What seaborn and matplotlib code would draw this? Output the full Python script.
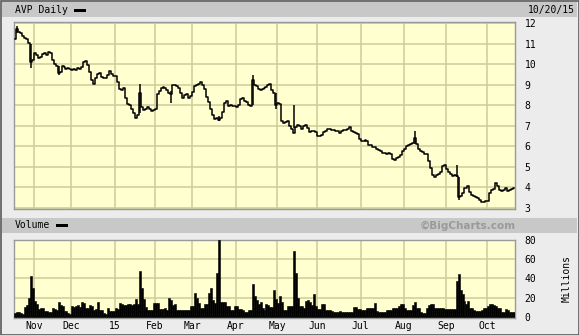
import numpy as np
import pandas as pd
import matplotlib
matplotlib.use("Agg")
import matplotlib.pyplot as plt
from matplotlib.patches import Rectangle
import seaborn as sns

# ---------------- data ----------------
close = [
    11.2, 11.7, 11.55, 11.5, 11.35, 11.25, 11.2, 11.05, 10.1, 10.2,
    10.55, 10.45, 10.3, 10.35, 10.5, 10.55, 10.45, 10.6, 10.55, 10.2,
    10.0, 9.9, 9.55, 9.6, 9.9, 9.85, 9.75, 9.8, 9.75, 9.7,
    9.75, 9.7, 9.8, 9.75, 9.85, 10.1, 10.15, 9.95, 9.6, 9.2,
    9.05, 9.3, 9.5, 9.55, 9.35, 9.3, 9.3, 9.45, 9.65, 9.5,
    9.4, 9.4, 9.1, 8.8, 8.75, 8.85, 8.35, 8.05, 8.0, 7.8,
    7.6, 7.35, 7.5, 8.6, 7.9, 7.75, 7.8, 7.9, 7.8, 7.7,
    7.75, 7.8, 8.55, 8.7, 8.85, 8.9, 8.85, 8.75, 8.6, 8.55,
    9.0, 9.0, 8.95, 8.85, 8.6, 8.35, 8.5, 8.55, 8.35, 8.45,
    8.65, 8.95, 9.0, 9.05, 9.1, 9.0, 8.8, 8.4, 8.15, 7.8,
    7.5, 7.3, 7.35, 7.25, 7.35, 7.65, 8.1, 8.2, 7.95, 8.0,
    7.95, 7.95, 7.9, 8.0, 8.3, 8.35, 8.2, 8.15, 8.0, 7.95,
    9.2, 9.0, 8.95, 8.8, 8.75, 8.8, 8.85, 8.9, 9.0, 9.05,
    8.75, 8.6, 8.0, 8.1, 8.05, 7.2, 7.1, 7.15, 7.2, 7.0,
    6.85, 6.65, 6.95, 7.05, 7.0, 6.85, 7.0, 7.05, 6.9, 6.7,
    6.75, 6.75, 6.7, 6.5, 6.5, 6.55, 6.7, 6.75, 6.85, 6.85,
    6.8, 6.8, 6.75, 6.75, 6.65, 6.75, 6.8, 6.8, 6.85, 6.95,
    6.75, 6.7, 6.65, 6.6, 6.35, 6.25, 6.25, 6.3, 6.25, 6.05,
    6.05, 5.95, 5.95, 5.85, 5.8, 5.75, 5.65, 5.65, 5.6, 5.65,
    5.6, 5.35, 5.3, 5.4, 5.45, 5.55, 5.75, 5.85, 6.0, 6.05,
    6.1, 6.15, 6.4, 6.1, 5.85, 5.75, 5.7, 5.6, 5.6, 5.25,
    4.95, 4.6, 4.5, 4.6, 4.65, 4.75, 5.05, 5.1, 4.9, 4.75,
    4.65, 4.55, 4.6, 4.55, 3.5, 3.55, 3.7, 3.95, 3.95, 4.05,
    3.75, 3.6, 3.55, 3.5, 3.45, 3.35, 3.25, 3.25, 3.3, 3.3,
    3.7, 3.85, 3.9, 4.2, 4.05, 3.85, 3.8, 3.85, 3.95, 3.8,
    3.85, 3.9, 3.95,
]

volume = [
    4, 5, 5, 4, 3, 10, 12, 20, 42, 30,
    17, 13, 8, 9, 9, 6, 6, 5, 5, 9,
    8, 7, 15, 12, 11, 6, 6, 4, 3.5, 11,
    10, 11, 12, 10, 15, 14, 9, 9, 12, 11,
    7, 8, 15, 7, 7, 4, 3.5, 9, 6, 6,
    6, 9, 8, 14, 13, 12, 12, 13, 13, 12,
    13, 19, 13, 48, 30, 19, 10, 7, 7, 7,
    14, 14, 14, 8, 8, 8, 9, 7, 20, 18,
    12, 13, 7, 7, 7, 7, 7, 7, 7, 11,
    11, 25, 20, 14, 9, 9, 13, 13, 25, 30,
    18, 14, 45, 79, 16, 16, 15, 11, 11, 7,
    7, 11, 11, 8, 8, 7, 5, 5, 7, 7,
    34, 22, 18, 13, 16, 9, 7, 13, 12, 10,
    10, 28, 19, 14, 22, 16, 7, 7, 11, 11,
    11, 68, 45, 20, 11, 11, 9, 17, 18, 15,
    12, 24, 11, 8, 8, 13, 13, 7, 7, 7,
    6, 5, 5, 5, 6, 5, 5, 5, 5, 5,
    5, 10, 10, 8, 8, 7, 7, 7, 9, 9,
    9, 9, 14, 6, 5, 5, 5, 5, 7, 7,
    7, 9, 9, 9, 11, 13, 13, 9, 7, 7,
    7, 12, 16, 9, 9, 5, 4.5, 4.5, 9, 12,
    13, 13, 9, 9, 9, 9, 9, 8, 8, 8,
    8, 8, 8, 37, 44, 28, 24, 17, 13, 17,
    9, 9, 7, 6, 6, 6, 7, 9, 9, 11,
    13, 13, 12, 11, 9, 9, 5, 5, 8, 7,
    5, 5, 5,
]

# daily extremes that stick out of the close line
spike_idx = [1, 8, 22, 63, 79, 103, 120, 132, 141, 202, 223, 224]
spike_low = [11.5, 9.8, 9.45, 7.6, 8.1, 7.2, 8.0, 7.8, 6.9, 6.1, 4.5, 3.35]
spike_high = [11.85, 11.0, 9.9, 9.05, 8.7, 7.45, 9.45, 8.6, 8.0, 6.75, 5.1, 4.5]

start, end = "2014-10-20", "2015-10-20"
holidays = ["2014-11-27", "2014-12-25", "2015-01-01", "2015-01-19", "2015-02-16",
            "2015-04-03", "2015-05-25", "2015-07-03", "2015-09-07"]
month_labels = ["Nov", "Dec", "15", "Feb", "Mar", "Apr", "May", "Jun", "Jul",
                "Aug", "Sep", "Oct"]
price_ticks = [3, 4, 5, 6, 7, 8, 9, 10, 11, 12]
volume_ticks = [0, 20, 40, 60, 80]

# ---------------- build frame ----------------
dates = pd.bdate_range(start, end)
dates = dates[~dates.isin(pd.to_datetime(holidays))]
n = min(len(dates), len(close), len(volume))
dates = dates[:n]
df = pd.DataFrame({"idx": np.arange(n), "close": close[:n], "volume": volume[:n]})
month_pos = [i - 0.5 for i in range(1, n) if dates[i].month != dates[i - 1].month]

# ---------------- figure ----------------
W, H = 579, 335
fig = plt.figure(figsize=(W / 100, H / 100), dpi=100)
fig.patch.set_facecolor("#ececec")

def px_rect(x0, y0, x1, y1):
    return [x0 / W, 1 - y1 / H, (x1 - x0) / W, (y1 - y0) / H]

MONO = "DejaVu Sans Mono"
FS = 7
GRID = "#cdcd9a"
BG = "#ffffcf"
HDR = "#c8c8c8"

# header bars
for (y0, y1) in [(2, 17), (218, 233)]:
    b = px_rect(2, y0, 577, y1)
    fig.add_artist(Rectangle((b[0], b[1]), b[2], b[3], transform=fig.transFigure,
                             facecolor=HDR, edgecolor="none", zorder=0))
# outer border
fig.add_artist(Rectangle((0.5 / W, 0.5 / H), 1 - 1 / W, 1 - 1 / H, transform=fig.transFigure,
                         fill=False, edgecolor="#5a5a5a", lw=1.2))

def ftext(x, y, s, **kw):
    fig.text(x / W, 1 - y / H, s, **kw)

ftext(15, 10, "AVP Daily", family=MONO, fontsize=FS, va="center", ha="left")
b = px_rect(74, 8.5, 86, 11.5)
fig.add_artist(Rectangle((b[0], b[1]), b[2], b[3], transform=fig.transFigure,
                         facecolor="black", edgecolor="none"))
ftext(575, 9.5, "10/20/15", family=MONO, fontsize=FS, va="center", ha="right")
ftext(15, 225.5, "Volume", family=MONO, fontsize=FS, va="center", ha="left")
b = px_rect(56, 224, 68, 227)
fig.add_artist(Rectangle((b[0], b[1]), b[2], b[3], transform=fig.transFigure,
                         facecolor="black", edgecolor="none"))
ftext(516, 225.5, "\u00a9BigCharts.com", family="DejaVu Sans", fontsize=7.5,
      fontweight="bold", color="#9a9a9a", va="center", ha="right")
ftext(567, 278, "Millions", family=MONO, fontsize=FS, va="center", ha="center",
      rotation=90)

# ---------------- price panel ----------------
ax = fig.add_axes(px_rect(14, 22, 515, 209))
ax.set_facecolor(BG)
sns.lineplot(data=df, x="idx", y="close", ax=ax, color="black", lw=1.1,
             drawstyle="steps-mid", estimator=None, zorder=3)
ax.vlines(spike_idx, spike_low, spike_high, color="black", lw=1.1, zorder=3)
ax.set_xlim(-0.5, n - 0.5)
ax.set_ylim(2.93, 12.05)
ax.set_xticks(month_pos)
ax.set_xticklabels([])
ax.set_yticks(price_ticks)
ax.set_yticklabels([str(t) for t in price_ticks], family=MONO, fontsize=FS)
ax.yaxis.tick_right()
ax.tick_params(axis="both", length=0)
ax.tick_params(axis="y", pad=7)
ax.grid(True, color=GRID, lw=1.1, zorder=0)
ax.set_axisbelow(True)
ax.set_xlabel("")
ax.set_ylabel("")
for s in ax.spines.values():
    s.set_color("#9a9a9a")
    s.set_linewidth(1.0)

# ---------------- volume panel ----------------
axv = fig.add_axes(px_rect(14, 239.5, 515, 318))
axv.set_facecolor(BG)
sns.barplot(data=df, x="idx", y="volume", ax=axv, native_scale=True, color="black",
            width=1.0, errorbar=None, edgecolor="black", linewidth=0.4, zorder=3)
axv.set_xlim(-0.5, n - 0.5)
axv.set_ylim(-1.0, 80.0)
axv.set_xticks(month_pos)
axv.set_xticklabels(month_labels[:len(month_pos)], family=MONO, fontsize=FS)
axv.set_yticks(volume_ticks)
axv.set_yticklabels([str(t) for t in volume_ticks], family=MONO, fontsize=FS)
axv.yaxis.tick_right()
axv.tick_params(axis="both", length=0)
axv.tick_params(axis="y", pad=7)
axv.tick_params(axis="x", pad=2)
axv.grid(True, color=GRID, lw=1.1, zorder=0)
axv.set_axisbelow(True)
axv.set_xlabel("")
axv.set_ylabel("")
for s in axv.spines.values():
    s.set_color("#9a9a9a")
    s.set_linewidth(1.0)

fig.savefig("out.png", dpi=100, facecolor=fig.get_facecolor())
